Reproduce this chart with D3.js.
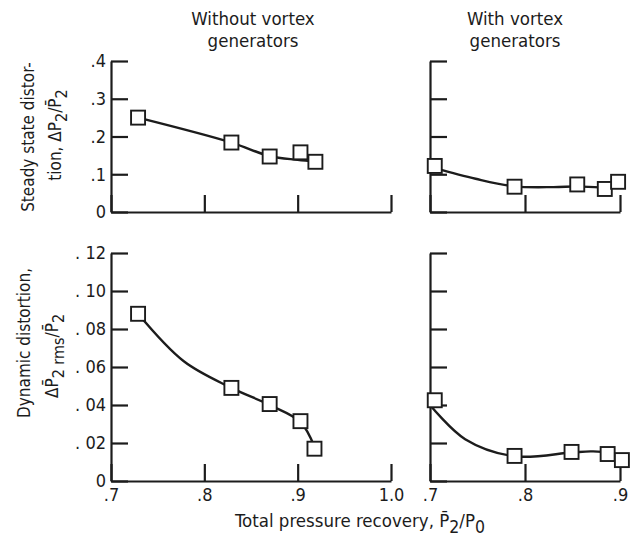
<!DOCTYPE html>
<html>
<head>
<meta charset="utf-8">
<script src="https://cdn.jsdelivr.net/npm/d3@7"></script>
<style>
  body { margin: 0; background: #fff; }
  svg text { font-family: "DejaVu Sans Condensed", "DejaVu Sans", sans-serif; font-stretch: condensed; fill: #1c1c1c; }
</style>
</head>
<body>
<script>
// pressure recovery P2/P0 for each run (markers)
const recoveryNoVg = [0.729, 0.829, 0.870, 0.903, 0.919];
const steadyNoVg = [0.250, 0.184, 0.147, 0.158, 0.133];
const recoveryNoVgDyn = [0.729, 0.829, 0.870, 0.903, 0.918];
const dynamicNoVg = [0.088, 0.049, 0.0405, 0.0315, 0.017];

const recoveryVg = [0.705, 0.789, 0.855, 0.884, 0.898];
const steadyVg = [0.122, 0.067, 0.073, 0.061, 0.080];
const recoveryVgDyn = [0.705, 0.789, 0.849, 0.887, 0.902];
const dynamicVg = [0.0425, 0.0132, 0.0153, 0.0142, 0.011];

// faired curves as drawn through the data
const fairSteadyNoVg = [[0.729, 0.250], [0.829, 0.184], [0.870, 0.148], [0.900, 0.138], [0.919, 0.133]];
const fairSteadyVg = [[0.705, 0.116], [0.748, 0.088], [0.789, 0.068], [0.830, 0.066], [0.855, 0.068], [0.884, 0.066], [0.898, 0.077]];
const fairDynNoVg = [[0.729, 0.088], [0.778, 0.063], [0.829, 0.049], [0.870, 0.040], [0.903, 0.031], [0.918, 0.018]];
const fairDynVg = [[0.700, 0.040], [0.737, 0.022], [0.789, 0.013], [0.849, 0.0150], [0.870, 0.0156], [0.887, 0.0148], [0.902, 0.011]];

// tick values and labels
const steadyTicks = [0, 0.1, 0.2, 0.3, 0.4];
const steadyTickLabels = ["0", ".1", ".2", ".3", ".4"];
const dynTicks = [0, 0.02, 0.04, 0.06, 0.08, 0.10, 0.12];
const dynTickLabels = ["0", ". 02", ". 04", ". 06", ". 08", ". 10", ". 12"];
const xTicksLeft = [0.7, 0.8, 0.9, 1.0];
const xTickLabelsLeft = [".7", ".8", ".9", "1.0"];
const xTicksRight = [0.7, 0.8, 0.9];
const xTickLabelsRight = [".7", ".8", ".9"];

const W = 635, H = 543;
const FS = 17;
const TICK = 17;

const svg = d3.select("body").append("svg")
  .attr("width", W)
  .attr("height", H)
  .style("background", "#fff");

// scales
const xLeft = d3.scaleLinear().domain([0.7, 1.0]).range([111, 391]);
const xRight = d3.scaleLinear().domain([0.7, 0.9]).range([430, 620]);
const ySteady = d3.scaleLinear().domain([0, 0.4]).range([212, 61]);
const yDyn = d3.scaleLinear().domain([0, 0.12]).range([481, 253]);

// text with subscripts / overbars; parts = [{t, sub, bar}]
const rich = (sel, parts, size) => {
  let shifted = false;
  parts.forEach(p => {
    const ts = sel.append("tspan").text(p.bar ? p.t + "\u0304" : p.t);
    if (p.sub && !shifted) { ts.attr("dy", 6).attr("font-size", size - 1); shifted = true; }
    else if (p.sub) { ts.attr("font-size", size - 1); }
    else if (shifted) { ts.attr("dy", -6); shifted = false; }
  });
  return sel;
};

const panel = (x, y, xTicks, xLabels, yTicks, yLabels, showX, showY) => {
  const g = svg.append("g");

  const ya = d3.axisLeft(y)
    .tickValues(yTicks)
    .tickSizeInner(-TICK)
    .tickSizeOuter(0)
    .tickPadding(5)
    .tickFormat((d, i) => showY ? yLabels[i] : "");
  g.append("g")
    .attr("transform", `translate(${x.range()[0]},0)`)
    .call(ya);

  const xa = d3.axisBottom(x)
    .tickValues(xTicks)
    .tickSizeInner(-TICK)
    .tickSizeOuter(0)
    .tickPadding(7)
    .tickFormat((d, i) => showX ? xLabels[i] : "");
  g.append("g")
    .attr("transform", `translate(0,${y.range()[0]})`)
    .call(xa);

  g.selectAll(".domain, .tick line")
    .attr("stroke", "#1c1c1c")
    .attr("stroke-width", 2.2);
  g.selectAll(".tick text")
    .attr("font-size", FS + 1)
    .attr("fill", "#1c1c1c")
    .style("font-family", "'DejaVu Sans Condensed', 'DejaVu Sans', sans-serif");
  return g;
};

const drawSeries = (g, x, y, xs, ys, fair) => {
  const line = d3.line()
    .x(d => x(d[0]))
    .y(d => y(d[1]))
    .curve(d3.curveCatmullRom.alpha(0.5));
  g.append("path")
    .datum(fair)
    .attr("d", line)
    .attr("fill", "none")
    .attr("stroke", "#1c1c1c")
    .attr("stroke-width", 2.4);

  const S = 14;
  g.selectAll("rect.pt")
    .data(xs.map((v, i) => [v, ys[i]]))
    .join("rect")
    .attr("class", "pt")
    .attr("x", d => x(d[0]) - S / 2)
    .attr("y", d => y(d[1]) - S / 2)
    .attr("width", S)
    .attr("height", S)
    .attr("fill", "#fff")
    .attr("stroke", "#1c1c1c")
    .attr("stroke-width", 1.9);
};

const tl = panel(xLeft, ySteady, xTicksLeft, xTickLabelsLeft, steadyTicks, steadyTickLabels, false, true);
drawSeries(tl, xLeft, ySteady, recoveryNoVg, steadyNoVg, fairSteadyNoVg);

const tr = panel(xRight, ySteady, xTicksRight, xTickLabelsRight, steadyTicks, steadyTickLabels, false, false);
drawSeries(tr, xRight, ySteady, recoveryVg, steadyVg, fairSteadyVg);

const bl = panel(xLeft, yDyn, xTicksLeft, xTickLabelsLeft, dynTicks, dynTickLabels, true, true);
drawSeries(bl, xLeft, yDyn, recoveryNoVgDyn, dynamicNoVg, fairDynNoVg);

const br = panel(xRight, yDyn, xTicksRight, xTickLabelsRight, dynTicks, dynTickLabels, true, false);
drawSeries(br, xRight, yDyn, recoveryVgDyn, dynamicVg, fairDynVg);

// column titles
const title = (cx, lines) => {
  lines.forEach((s, i) => {
    svg.append("text")
      .attr("x", cx)
      .attr("y", 25 + i * 22)
      .attr("text-anchor", "middle")
      .attr("font-size", 18.5)
      .text(s);
  });
};
title(253, ["Without vortex", "generators"]);
title(515, ["With vortex", "generators"]);

// rotated y labels
const yLabel = (bx, cy, parts) => {
  const t = svg.append("text")
    .attr("transform", `translate(${bx},${cy}) rotate(-90)`)
    .attr("text-anchor", "middle")
    .attr("font-size", FS);
  rich(t, parts, FS);
};
yLabel(34, 137, [{ t: "Steady state distor-" }]);
yLabel(61, 135, [{ t: "tion,  \u0394P" }, { t: "2", sub: true }, { t: "/" }, { t: "P", bar: true }, { t: "2", sub: true }]);
yLabel(30, 343, [{ t: "Dynamic distortion," }]);
yLabel(58, 356, [{ t: "\u0394" }, { t: "P", bar: true }, { t: "2 rms", sub: true }, { t: "/" }, { t: "P", bar: true }, { t: "2", sub: true }]);

// x axis title
const xt = svg.append("text")
  .attr("x", 360)
  .attr("y", 527)
  .attr("text-anchor", "middle")
  .attr("font-size", 18.5);
rich(xt, [{ t: "Total pressure recovery,  " }, { t: "P", bar: true }, { t: "2", sub: true }, { t: "/P" }, { t: "0", sub: true }], 18.5);
</script>
</body>
</html>
